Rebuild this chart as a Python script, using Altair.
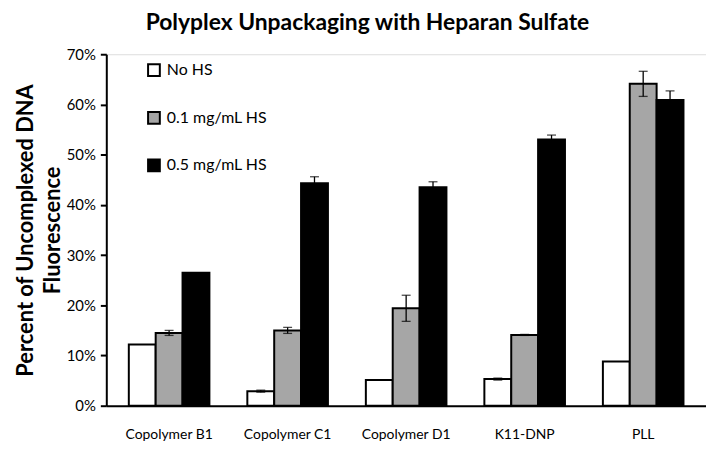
import altair as alt
import pandas as pd

categories = ["Copolymer B1", "Copolymer C1", "Copolymer D1", "K11-DNP", "PLL"]
series = ["No HS", "0.1 mg/mL HS", "0.5 mg/mL HS"]
no_hs = [12.2, 2.9, 5.1, 5.3, 8.8]
hs_01 = [14.5, 15.0, 19.4, 14.1, 64.1]
hs_05 = [26.5, 44.3, 43.5, 53.0, 60.9]
err_no_hs = [0.0, 0.2, 0.0, 0.2, 0.0]
err_01 = [0.5, 0.6, 2.6, 0.1, 2.5]
err_05 = [0.0, 1.3, 1.1, 0.9, 1.8]

rows = []
for vals, errs, s in [(no_hs, err_no_hs, series[0]), (hs_01, err_01, series[1]), (hs_05, err_05, series[2])]:
    for c, v, e in zip(categories, vals, errs):
        rows.append({"cat": c, "series": s, "v": v / 100, "lo": (v - e) / 100, "hi": (v + e) / 100, "e": e})
df = pd.DataFrame(rows)

FONT = "Lato"
x = alt.X("cat:N", sort=categories, title=None,
          scale=alt.Scale(paddingInner=0.32, paddingOuter=0.19),
          axis=alt.Axis(labelAngle=0, ticks=False, labelPadding=22, labelFontSize=14,
                        labelColor="black", domainColor="black", domainWidth=2, labelFont=FONT))
xo = alt.XOffset("series:N", sort=series, scale=alt.Scale(paddingInner=0, paddingOuter=0))
y = alt.Y("v:Q", title=["Percent of Uncomplexed DNA", "Fluorescence"],
          scale=alt.Scale(domain=[0, 0.7], nice=False),
          axis=alt.Axis(format=".0%", values=[i / 10 for i in range(8)], grid=False,
                        tickSize=6, tickColor="black", tickWidth=2, domainColor="black", domainWidth=2,
                        labelFontSize=15, labelColor="black", labelPadding=5, labelFont=FONT,
                        titleFont=FONT, titleFontSize=22, titleFontWeight="bold", titleColor="black",
                        titlePadding=2, titleLineHeight=27))

bars = alt.Chart(df).mark_bar(stroke="black", strokeWidth=2).encode(
    x=x, xOffset=xo, y=y,
    color=alt.Color("series:N", sort=series, title=None,
                    scale=alt.Scale(domain=series, range=["#ffffff", "#a6a6a6", "#000000"]),
                    legend=alt.Legend(orient="none", legendX=40, legendY=8, symbolType="square",
                                      symbolSize=140, symbolStrokeColor="black", symbolStrokeWidth=2,
                                      labelFontSize=16, labelFont=FONT, labelColor="black",
                                      rowPadding=28, labelOffset=5)),
)

edf = df[df["e"] > 0]
rules = alt.Chart(edf).mark_rule(color="black", strokeWidth=1.3).encode(
    x=alt.X("cat:N", sort=categories), xOffset=xo, y="lo:Q", y2="hi:Q")
caps_hi = alt.Chart(edf).mark_tick(color="black", thickness=1.3, size=9).encode(
    x=alt.X("cat:N", sort=categories), xOffset=xo, y="hi:Q")
caps_lo = alt.Chart(edf).mark_tick(color="black", thickness=1.3, size=9).encode(
    x=alt.X("cat:N", sort=categories), xOffset=xo, y="lo:Q")

chart = alt.layer(bars, rules, caps_hi, caps_lo).properties(
    width=604, height=354,
    autosize=alt.AutoSizeParams(type="none"),
    padding={"left": 99, "top": 45, "right": 0, "bottom": 37},
    title=alt.TitleParams("Polyplex Unpackaging with Heparan Sulfate", font=FONT, fontSize=23,
                          fontWeight="bold", color="black", anchor="middle", dx=-39, offset=12),
).configure_view(stroke=None).configure(background="white")

chart.save("out.html", embed_options={"renderer": "svg", "actions": False})
